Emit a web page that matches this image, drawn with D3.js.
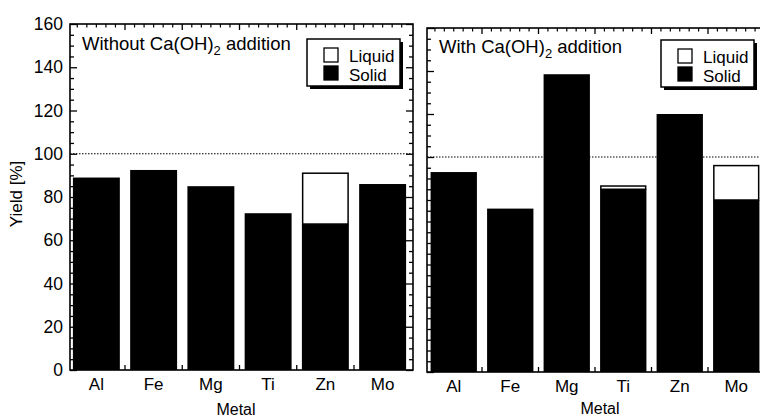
<!DOCTYPE html>
<html><head><meta charset="utf-8">
<script src="https://cdn.jsdelivr.net/npm/d3@7"></script>
<style>
html,body{margin:0;padding:0;background:#fff;}
svg{display:block;font-family:"Liberation Sans",Arial,Helvetica,sans-serif;}
</style></head>
<body>
<svg id="c" width="760" height="418"></svg>
<script>
const categories = ["Al","Fe","Mg","Ti","Zn","Mo"];
const withoutSolid  = [89, 92.5, 85, 72.5, 67.5, 86];
const withoutLiquid = [0, 0, 0, 0, 23.5, 0];
const withSolid  = [93, 76, 138.5, 85, 120, 80];
const withLiquid = [0, 0, 0, 1.5, 0, 16];
const yMajorTicks = [0, 20, 40, 60, 80, 100, 120, 140, 160];
const legendLabels = ["Liquid", "Solid"];
const panelTitles = [["Without Ca(OH)", "2", " addition"], ["With Ca(OH)", "2", " addition"]];
const xTitle = "Metal";
const yTitle = "Yield [%]";
const refLine = 100;

const svg = d3.select("#c");

const panels = [
  {solid: withoutSolid, liquid: withoutLiquid, title: panelTitles[0],
   fx0: 70, fx1: 413, fyTop: 24, fyBot: 370, bandStart: 67.75, step: 57.25,
   labels: true, legend: {x: 307, y: 39}, titleX: 82, titleY: 50, xTitleX: 236, xTitleY: 415},
  {solid: withSolid, liquid: withLiquid, title: panelTitles[1],
   fx0: 427, fx1: 767, fyTop: 28, fyBot: 372, bandStart: 425.5, step: 56.5,
   labels: false, legend: {x: 661, y: 40}, titleX: 439, titleY: 53, xTitleX: 600, xTitleY: 414}
];

panels.forEach(p => {
  const g = svg.append("g");
  const x = d3.scaleBand().domain(categories)
    .range([p.bandStart, p.bandStart + p.step * 6])
    .paddingInner(0.18).paddingOuter(0.09);
  const y = d3.scaleLinear().domain([0, 160]).range([p.fyBot, p.fyTop]);
  const minor = d3.range(0, 161, 5).filter(v => v % 20 !== 0);

  // bars: solid
  g.selectAll("rect.solid").data(categories).join("rect")
    .attr("x", d => x(d)).attr("width", x.bandwidth())
    .attr("y", (d, i) => y(p.solid[i]))
    .attr("height", (d, i) => y(0) - y(p.solid[i]))
    .attr("fill", "#000");
  // bars: liquid stacked on top
  g.selectAll("rect.liq").data(categories.filter((d, i) => p.liquid[i] > 0)).join("rect")
    .attr("x", d => x(d) + 0.75).attr("width", x.bandwidth() - 1.5)
    .attr("y", d => { const i = categories.indexOf(d); return y(p.solid[i] + p.liquid[i]); })
    .attr("height", d => { const i = categories.indexOf(d); return y(p.solid[i]) - y(p.solid[i] + p.liquid[i]); })
    .attr("fill", "#fff").attr("stroke", "#000").attr("stroke-width", 1.5);

  // reference dotted line
  g.append("line")
    .attr("x1", p.fx0).attr("x2", p.fx1)
    .attr("y1", y(refLine)).attr("y2", y(refLine))
    .attr("stroke", "#000").attr("stroke-width", 1.2).attr("stroke-dasharray", "1.5,1.5");

  // frame
  g.append("rect").attr("x", p.fx0).attr("y", p.fyTop)
    .attr("width", p.fx1 - p.fx0).attr("height", p.fyBot - p.fyTop)
    .attr("fill", "none").attr("stroke", "#000").attr("stroke-width", 1.6);

  // y ticks inward on left and right edges
  const addY = (axisFn, xpos, vals, size) => {
    g.append("g").attr("transform", `translate(${xpos},0)`)
      .call(axisFn(y).tickValues(vals).tickSize(size).tickFormat(""))
      .call(s => s.select(".domain").remove())
      .selectAll("line").attr("stroke", "#000").attr("stroke-width", 1.3);
  };
  addY(d3.axisRight, p.fx0, yMajorTicks, 7);
  addY(d3.axisRight, p.fx0, minor, 4);
  addY(d3.axisLeft, p.fx1, yMajorTicks, 7);
  addY(d3.axisLeft, p.fx1, minor, 4);

  if (p.labels) {
    g.append("g").attr("transform", `translate(${p.fx0},0)`)
      .call(d3.axisLeft(y).tickValues(yMajorTicks).tickSize(0).tickPadding(7))
      .call(s => s.select(".domain").remove())
      .selectAll("text").attr("font-size", 17.5).attr("fill", "#000")
      .attr("font-family", "Liberation Sans, Arial, sans-serif");
  }

  // x-axis boundaries (category dividers)
  const bounds = d3.range(1, 6).map(i => x(categories[i]) - x.step() * x.paddingInner() / 2);
  const minorX = d3.range(0, 37).map(i => x.range()[0] + i * x.step() / 6)
    .filter((v, i) => i % 6 !== 0);
  g.selectAll("line.bt").data(bounds).join("line")
    .attr("x1", d => d).attr("x2", d => d)
    .attr("y1", p.fyBot).attr("y2", p.fyBot - 5)
    .attr("stroke", "#000").attr("stroke-width", 1.3);
  g.selectAll("line.tt").data(bounds).join("line")
    .attr("x1", d => d).attr("x2", d => d)
    .attr("y1", p.fyTop).attr("y2", p.fyTop + 6)
    .attr("stroke", "#000").attr("stroke-width", 1.3);
  g.selectAll("line.tm").data(minorX.filter(v => v > p.fx0 + 2 && v < p.fx1 - 2)).join("line")
    .attr("x1", d => d).attr("x2", d => d)
    .attr("y1", p.fyTop).attr("y2", p.fyTop + 3.5)
    .attr("stroke", "#000").attr("stroke-width", 1.2);

  // x labels
  g.append("g").attr("transform", `translate(0,${p.fyBot})`)
    .call(d3.axisBottom(x).tickSize(0).tickPadding(8))
    .call(s => s.select(".domain").remove())
    .selectAll("text").attr("font-size", 17).attr("fill", "#000")
    .attr("font-family", "Liberation Sans, Arial, sans-serif");

  g.append("text").attr("x", p.xTitleX).attr("y", p.xTitleY)
    .attr("text-anchor", "middle").attr("font-size", 16).text(xTitle);

  // panel title
  const t = g.append("text").attr("x", p.titleX).attr("y", p.titleY).attr("font-size", 18.5);
  t.append("tspan").text(p.title[0]);
  t.append("tspan").attr("dy", 5).attr("font-size", 13).text(p.title[1]);
  t.append("tspan").attr("dy", -5).text(p.title[2]);

  // legend
  const L = g.append("g").attr("transform", `translate(${p.legend.x},${p.legend.y})`);
  L.append("rect").attr("x", 3).attr("y", 3).attr("width", 93).attr("height", 47).attr("fill", "#000");
  L.append("rect").attr("x", 0).attr("y", 0).attr("width", 93).attr("height", 47)
    .attr("fill", "#fff").attr("stroke", "#000").attr("stroke-width", 1.5);
  legendLabels.forEach((lab, i) => {
    L.append("rect").attr("x", 17).attr("y", 9 + i * 18).attr("width", 14).attr("height", 14)
      .attr("fill", i === 0 ? "#fff" : "#000").attr("stroke", "#000").attr("stroke-width", 1.3);
    L.append("text").attr("x", 42).attr("y", 23 + i * 19).attr("font-size", 17).text(lab);
  });
});

// y-axis title
svg.append("text").attr("transform", "translate(21.5,194) rotate(-90)")
  .attr("text-anchor", "middle").attr("font-size", 17).text(yTitle);
</script>
</body></html>
